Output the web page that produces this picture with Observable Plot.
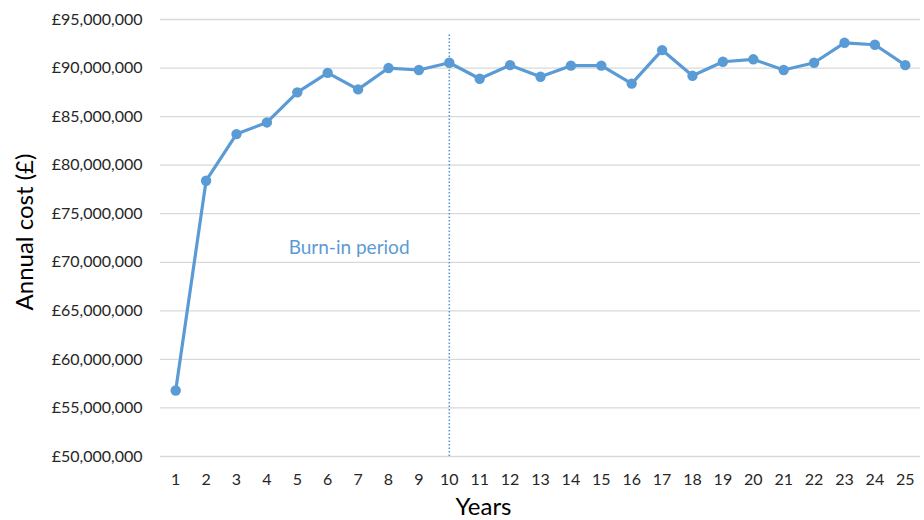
<!DOCTYPE html>
<html>
<head>
<meta charset="utf-8">
<script src="https://cdn.jsdelivr.net/npm/d3@7"></script>
<script src="https://cdn.jsdelivr.net/npm/@observablehq/plot@0.6"></script>
<style>
  html, body { margin: 0; padding: 0; background: #fff; }
  #chart { width: 924px; height: 520px; }
</style>
</head>
<body>
<div id="chart"></div>
<script>
const years = [1,2,3,4,5,6,7,8,9,10,11,12,13,14,15,16,17,18,19,20,21,22,23,24,25];
const annualCost = [56.8,78.4,83.2,84.4,87.5,89.5,87.8,90.0,89.8,90.55,88.9,90.3,89.1,90.25,90.25,88.4,91.85,89.2,90.65,90.9,89.8,90.55,92.6,92.4,90.3].map(v => v * 1e6);
const yTicks = [50,55,60,65,70,75,80,85,90,95].map(v => v * 1e6);
const burnInYear = [10];
const burnInTop = [93.5e6];
const annotation = [{x: 7, y: 71.5e6, text: "Burn-in period"}];

const data = years.map((y, i) => ({year: y, cost: annualCost[i]}));
const blue = "#5B9BD5";
const fmt = v => "£" + d3.format(",")(v);

const chart = Plot.plot({
  width: 924,
  height: 520,
  marginLeft: 160,
  marginRight: 4,
  marginTop: 19,
  marginBottom: 64,
  style: {fontFamily: "Lato, 'Open Sans', sans-serif", fontSize: "16px", color: "#262626", background: "#fff"},
  x: {type: "point", domain: years, padding: 0.5, round: false, label: null},
  y: {domain: [50e6, 95e6], label: null},
  marks: [
    Plot.ruleY(yTicks, {stroke: "#d9d9d9", strokeWidth: 1.3}),
    Plot.axisY(yTicks, {tickSize: 0, tickPadding: 18, tickFormat: fmt, fontSize: 16, fill: "#262626", label: null}),
    Plot.axisX(years, {tickSize: 0, tickPadding: 17, fontSize: 16, fill: "#262626", label: null}),
    Plot.ruleX(burnInYear, {x: d => d, y1: 50e6, y2: burnInTop[0], stroke: blue, strokeWidth: 1.6, strokeDasharray: "1.5,2"}),
    Plot.line(data, {x: "year", y: "cost", stroke: blue, strokeWidth: 3.2}),
    Plot.dot(data, {x: "year", y: "cost", r: 5.2, fill: blue, stroke: "none"}),
    Plot.text(annotation, {x: "x", y: "y", text: "text", fill: blue, fontSize: 19, dx: -9}),
    Plot.text(["Annual cost (£)"], {frameAnchor: "left", textAnchor: "middle", dx: -135, dy: -6, rotate: -90, fontSize: 24, fill: "#000"}),
    Plot.text(["Years"], {frameAnchor: "bottom", dx: -57, dy: 58, fontSize: 24, fill: "#000"})
  ]
});
document.getElementById("chart").appendChild(chart);
</script>
</body>
</html>
